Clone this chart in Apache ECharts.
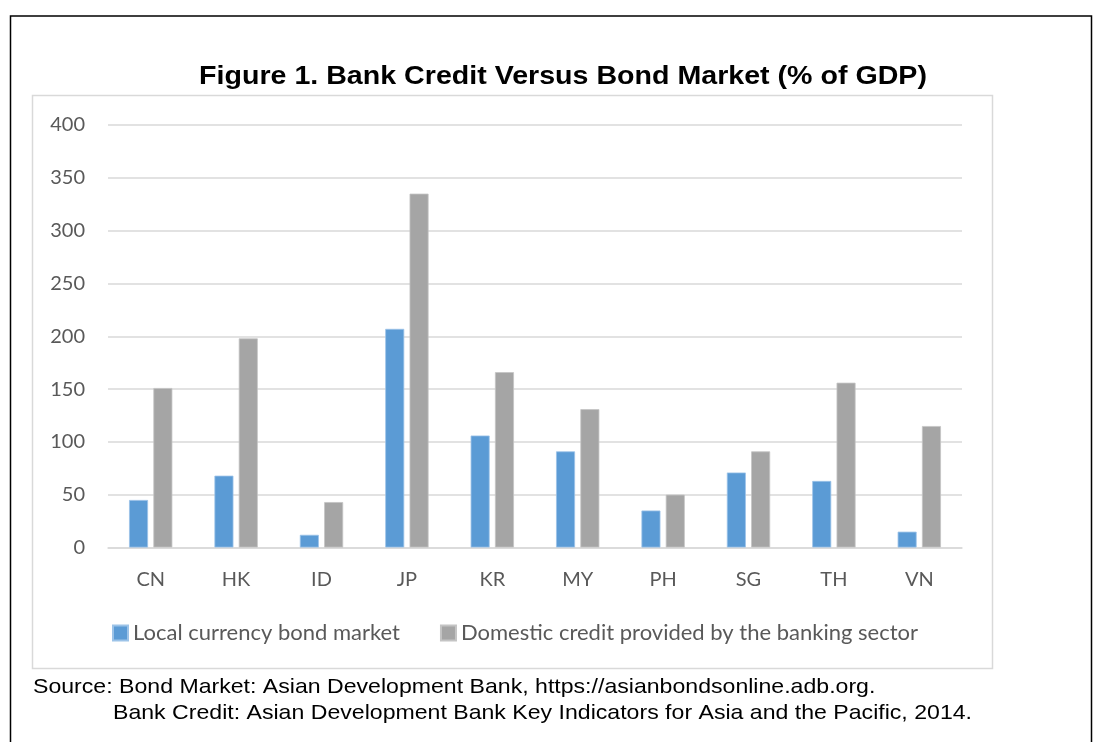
<!DOCTYPE html>
<html><head><meta charset="utf-8">
<script src="https://cdn.jsdelivr.net/npm/echarts@6/dist/echarts.min.js"></script>
<style>html,body{margin:0;padding:0;background:#fff}#c{width:1100px;height:742px}</style>
</head><body><div id="c"></div>
<script>
const categories = ['CN','HK','ID','JP','KR','MY','PH','SG','TH','VN'];
const bondMarket = [45, 68, 12, 207, 106, 91, 35, 71, 63, 15];
const bankCredit = [151, 198, 43, 335, 166, 131, 50, 91, 156, 115];
const yTicks = {min: 0, max: 400, interval: 50};
const titleText = 'Figure 1. Bank Credit Versus Bond Market (% of GDP)';
const seriesNames = ['Local currency bond market', 'Domestic credit provided by the banking sector'];
const sourceLines = ['Source: Bond Market: Asian Development Bank, https://asianbondsonline.adb.org.',
  'Bank Credit: Asian Development Bank Key Indicators for Asia and the Pacific, 2014.'];

const chart = echarts.init(document.getElementById('c'), null, {renderer: 'canvas'});
const lab = '#595959';
chart.setOption({
  animation: false,
  backgroundColor: '#fff',
  grid: {left: 108, right: 138, top: 125, bottom: 194.5, containLabel: false},
  legend: {
    data: seriesNames, left: 107, top: 617, itemWidth: 15, itemHeight: 15, itemGap: 40,
    icon: 'rect',
    textStyle: {fontFamily: 'Lato', fontSize: 22, color: lab}
  },
  xAxis: {
    type: 'category', data: categories,
    axisLine: {lineStyle: {color: '#d9d9d9', width: 1.5}}, axisTick: {show: false},
    axisLabel: {color: lab, fontFamily: 'Lato', fontSize: 20, margin: 22}
  },
  yAxis: {
    type: 'value', min: yTicks.min, max: yTicks.max, interval: yTicks.interval,
    axisLine: {show: false}, axisTick: {show: false},
    splitLine: {lineStyle: {color: '#d9d9d9', width: 1.5}},
    axisLabel: {color: lab, fontFamily: 'Lato', fontSize: 20, margin: 23}
  },
  series: [
    {name: seriesNames[0], type: 'bar', data: bondMarket, barWidth: 19, barGap: '28%',
     itemStyle: {color: '#5B9BD5', borderColor: '#9cc3e8', borderWidth: 0.8}},
    {name: seriesNames[1], type: 'bar', data: bankCredit, barWidth: 19,
     itemStyle: {color: '#A5A5A5', borderColor: '#c4c4c4', borderWidth: 0.8}}
  ],
  graphic: [
    {type: 'polyline', shape: {points: [[10.5, 742], [10.5, 16], [1091.5, 16], [1091.5, 742]]},
     style: {stroke: '#000', lineWidth: 1.5, fill: null}, silent: true},
    {type: 'rect', shape: {x: 32.5, y: 95.5, width: 960, height: 573},
     style: {stroke: '#d9d9d9', lineWidth: 1.5, fill: null}, silent: true, z: -1},
    {type: 'text', x: 563, y: 77, scaleX: 1.1,
     style: {text: titleText, font: 'bold 26px "Liberation Sans", Arial', fill: '#000',
             textAlign: 'center', textVerticalAlign: 'middle'}},
    {type: 'text', x: 33, y: 687, scaleX: 1.1,
     style: {text: sourceLines[0], font: '21px "Liberation Sans", Arial', fill: '#000',
             textAlign: 'left', textVerticalAlign: 'middle'}},
    {type: 'text', x: 113, y: 713, scaleX: 1.1,
     style: {text: sourceLines[1], font: '21px "Liberation Sans", Arial', fill: '#000',
             textAlign: 'left', textVerticalAlign: 'middle'}}
  ]
});
</script></body></html>
